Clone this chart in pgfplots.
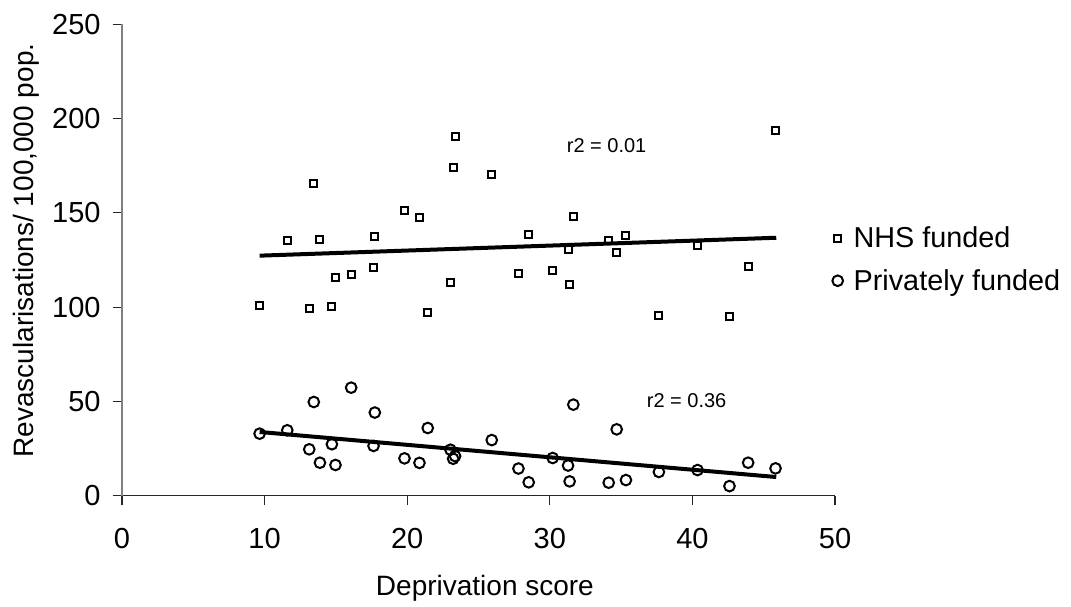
\documentclass[border=0pt]{standalone}
\usepackage{pgfplots}
\pgfplotsset{compat=1.18}
\usepackage{pgfplotstable}
\usepackage{fontspec}
\setmainfont{Liberation Sans}

\pgfplotsset{
  shortmarklegend/.style={
    legend image code/.code={\draw[mark repeat=2,mark phase=2,##1] plot coordinates {(0pt,0pt) (4.3pt,0pt) (8.6pt,0pt)};}},
}

\pgfplotstableread{
x y
9.65 101.1
11.59 135.4
13.13 99.5
13.45 165.8
13.88 135.8
14.72 100.1
14.97 115.6
16.07 117.4
17.64 120.9
17.73 137.2
19.81 151.3
20.86 147.5
21.44 97.4
23.03 113.3
23.22 174.1
23.36 190.6
25.93 170.6
27.80 118.1
28.52 138.6
30.20 119.3
31.28 130.8
31.39 111.9
31.65 148.3
34.13 135.6
34.69 128.9
35.34 138.2
37.65 95.5
40.36 132.9
42.60 95.0
43.91 121.3
45.83 193.6
}\nhs

\pgfplotstableread{
x y
9.65 32.9
11.59 34.7
13.13 24.6
13.45 49.7
13.88 17.5
14.72 27.3
14.97 16.3
16.07 57.3
17.64 26.4
17.73 44.1
19.81 19.8
20.86 17.4
21.44 35.9
23.03 24.4
23.22 19.6
23.36 21.0
25.93 29.5
27.80 14.4
28.52 7.1
30.20 20.0
31.28 16.0
31.39 7.6
31.65 48.3
34.13 6.9
34.69 35.2
35.34 8.3
37.65 12.6
40.36 13.6
42.60 5.1
43.91 17.5
45.83 14.5
}\private

\begin{document}
\begin{tikzpicture}
\path[use as bounding box] (-61pt,-55.15pt) rectangle (474.5pt,247.85pt);
\begin{axis}[
  at={(0,0)}, anchor=south west,
  scale only axis, width=356.5pt, height=235.7pt,
  xmin=0, xmax=50, ymin=0, ymax=250,
  xtick={0,10,...,50}, ytick={0,50,...,250},
  axis x line=bottom, axis y line=left,
  x axis line style={-, black!85, line width=0.6pt},
  y axis line style={-, black!50, line width=0.6pt},
  tick style={black!85, line width=0.6pt},
  tick align=outside, major tick length=4.7pt,
  clip=false,
  /pgf/number format/assume math mode=true,
  tick label style={font=\fontsize{14.5}{16}\selectfont},
  xticklabel style={anchor=base, yshift=-21.45pt},
  yticklabel style={xshift=-2.5pt},
  label style={font=\fontsize{14}{16}\selectfont},
  xlabel={Deprivation score},
  xlabel style={at={(axis description cs:0.509,-0.2107)}, anchor=base},
  ylabel={Revascularisations/ 100,000 pop.},
  ylabel style={at={(axis description cs:-0.1248,0.52)}, anchor=base},
  legend cell align=left,
  legend style={draw=none, fill=none, inner sep=0pt, outer sep=0pt,
    at={(axis description cs:0.9963,0.5703)}, anchor=north west,
    font=\fontsize{14.4}{16}\selectfont, row sep=9.55pt,
    nodes={inner xsep=5.3pt, inner ysep=0pt, text height=10.5pt, text depth=1.1pt}},
]
\addplot[only marks, mark=square, mark size=1.75pt,
  mark options={draw=black, fill=white, line width=1pt}, shortmarklegend]
  table {\nhs};
\addlegendentry{NHS funded}
\addplot[only marks, mark=o, mark size=2.67pt,
  mark options={draw=black, fill=white, line width=1pt}, shortmarklegend]
  table {\private};
\addlegendentry{Privately funded}
\addplot[black, line width=2pt, forget plot] coordinates {(9.65,127.3) (45.88,136.8)};
\addplot[black, line width=2pt, forget plot] coordinates {(9.65,33.8) (45.88,9.9)};
\node[anchor=base west, inner sep=0pt, font=\fontsize{10}{12}\selectfont] at (axis cs:31.17,181.9) {r2 = 0.01};
\node[anchor=base west, inner sep=0pt, font=\fontsize{10}{12}\selectfont] at (axis cs:36.78,46.9) {r2 = 0.36};
\end{axis}
\end{tikzpicture}
\end{document}
